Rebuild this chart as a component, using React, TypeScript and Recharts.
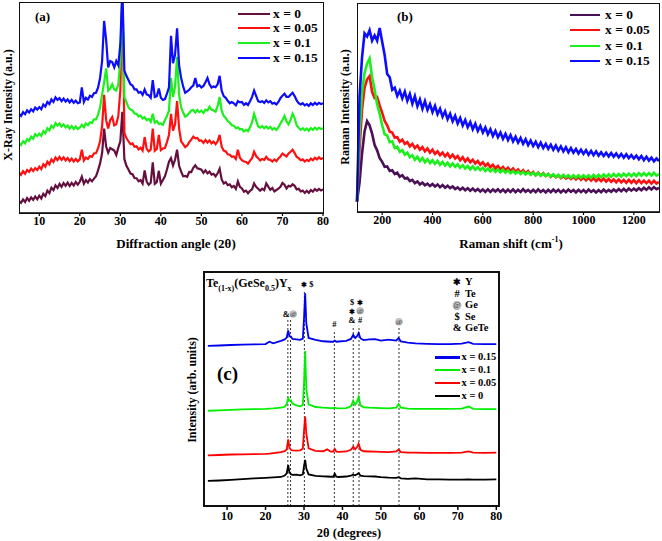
import React from 'react';
import { LineChart, Line, XAxis, YAxis, ReferenceLine, ReferenceDot } from 'recharts';

const SERIF = "'Liberation Serif', 'Times New Roman', Times, serif";

// ---------- (a) XRD patterns, one reading every 0.5 degree from 5 to 80 ----------
const xrdAngles = Array.from({ length: 151 }, (_, i) => 5 + i * 0.5);
const xrdTicks = [10, 20, 30, 40, 50, 60, 70, 80];

const xrd0 = [
  5.7, 4.8, 6.4, 5.2, 7.1, 5.8, 7.4, 6.2, 7.8, 6.5,
  8.2, 6.9, 9.1, 8.0, 10.6, 9.4, 12.0, 10.8, 13.1, 11.9,
  13.8, 12.4, 14.2, 12.9, 14.4, 12.8, 14.3, 13.0, 14.7, 13.4,
  14.8, 17.2, 13.9, 15.6, 14.4, 16.1, 15.0, 16.3, 17.4, 20.2,
  23.5, 28.4, 40.0, 31.5, 28.6, 30.8, 30.2, 29.6, 27.5, 31.0,
  34.0, 48.0, 25.5, 22.4, 20.6, 18.7, 18.4, 16.6, 16.5, 15.0,
  15.6, 14.0, 20.2, 14.9, 13.4, 14.3, 24.0, 13.8, 14.6, 20.0,
  13.9, 15.6, 17.4, 20.6, 24.3, 26.0, 22.5, 25.2, 30.0, 22.4,
  19.6, 17.4, 17.6, 17.2, 19.5, 19.4, 21.4, 22.6, 21.2, 20.9,
  20.5, 19.0, 20.2, 18.8, 19.6, 18.2, 18.6, 17.4, 18.8, 21.0,
  15.9, 14.0, 14.6, 13.2, 13.6, 12.2, 12.8, 11.4, 15.0, 12.4,
  11.6, 10.1, 10.6, 9.4, 10.5, 11.2, 14.0, 12.4, 11.5, 10.6,
  11.5, 10.8, 14.0, 12.5, 11.0, 11.9, 10.2, 10.9, 11.5, 12.4,
  14.2, 13.4, 11.6, 12.9, 12.6, 13.6, 12.9, 11.2, 11.5, 10.2,
  10.6, 9.5, 10.5, 9.6, 10.9, 10.1, 11.3, 10.5, 11.4, 10.7,
  11.2,
];
const xrd005 = [
  19.2, 18.1, 19.8, 18.6, 20.4, 19.5, 21.0, 19.9, 21.3, 20.4,
  22.0, 20.8, 23.1, 22.0, 24.3, 23.1, 25.4, 24.2, 26.3, 25.1,
  26.6, 25.2, 26.4, 24.9, 26.0, 24.6, 25.8, 24.4, 25.6, 24.5,
  25.4, 30.0, 24.9, 26.3, 25.6, 27.0, 26.6, 28.2, 28.4, 30.6,
  34.0, 41.0, 56.0, 44.0, 40.0, 44.0, 45.5, 41.5, 42.0, 46.0,
  58.0, 106.0, 38.0, 35.5, 34.0, 32.6, 33.0, 31.4, 31.6, 30.2,
  31.0, 29.6, 36.0, 30.4, 29.2, 30.0, 40.0, 29.5, 30.4, 37.0,
  29.8, 30.6, 30.8, 33.6, 37.0, 47.0, 39.0, 42.0, 53.0, 40.0,
  34.0, 32.6, 31.2, 32.0, 33.6, 34.8, 36.2, 35.4, 35.6, 34.2,
  34.4, 33.2, 34.6, 33.4, 34.4, 33.0, 33.8, 32.6, 34.0, 37.0,
  31.4, 29.6, 29.2, 27.8, 27.6, 26.6, 26.8, 25.6, 30.0, 26.2,
  25.0, 24.4, 24.2, 23.4, 24.8, 26.0, 29.0, 27.0, 26.0, 24.9,
  25.6, 25.2, 26.6, 25.4, 25.2, 24.4, 25.4, 24.6, 25.8, 26.8,
  28.2, 27.4, 26.8, 28.2, 29.0, 30.0, 28.4, 26.6, 26.0, 25.0,
  25.4, 24.4, 25.2, 24.6, 25.8, 25.0, 26.2, 25.4, 26.4, 25.6,
  26.0,
];
const xrd01 = [
  33.0, 32.2, 34.0, 33.0, 35.0, 34.2, 36.2, 35.2, 37.4, 36.4,
  37.6, 36.6, 38.8, 37.8, 40.2, 39.2, 41.4, 40.4, 42.6, 41.4,
  42.4, 41.0, 42.0, 40.6, 41.4, 40.0, 41.2, 39.8, 41.0, 39.8,
  40.4, 41.8, 40.6, 42.4, 41.6, 43.0, 42.6, 44.4, 44.4, 46.6,
  50.0, 56.0, 62.0, 68.5, 58.0, 59.0, 61.0, 58.5, 58.0, 61.0,
  72.0, 106.0, 55.0, 52.5, 50.0, 49.0, 48.6, 47.2, 47.0, 45.8,
  46.2, 44.8, 45.4, 44.0, 44.6, 43.2, 47.0, 42.8, 43.6, 42.2,
  42.4, 41.8, 44.0, 46.0, 48.5, 64.0, 55.0, 60.0, 74.0, 56.0,
  50.0, 47.6, 45.6, 46.2, 47.4, 48.6, 48.8, 47.6, 48.8, 47.8,
  48.5, 47.4, 49.0, 48.6, 50.4, 49.0, 48.6, 48.0, 50.6, 55.0,
  48.5, 46.0, 45.0, 43.6, 42.8, 41.6, 41.4, 40.2, 40.6, 39.6,
  39.8, 38.6, 39.4, 38.8, 40.6, 43.0, 47.0, 44.0, 41.0, 40.4,
  41.2, 40.2, 41.0, 40.0, 40.8, 39.6, 40.2, 39.4, 40.6, 42.4,
  44.0, 46.0, 43.4, 42.0, 44.0, 47.0, 45.0, 41.6, 40.4, 39.4,
  40.2, 39.2, 40.0, 39.0, 40.2, 39.4, 40.4, 39.6, 40.4, 39.8,
  40.2,
];
const xrd015 = [
  47.0, 46.0, 47.8, 46.8, 48.6, 47.6, 49.2, 48.2, 50.0, 49.0,
  50.2, 49.2, 51.4, 50.4, 52.6, 51.6, 53.8, 52.6, 54.8, 53.6,
  54.4, 53.0, 54.2, 52.8, 53.8, 52.4, 53.6, 52.2, 53.2, 52.0,
  52.4, 59.5, 52.6, 54.6, 53.8, 55.6, 55.0, 56.8, 57.0, 59.4,
  64.0, 72.0, 91.0, 82.0, 69.0, 72.0, 71.5, 69.0, 72.0, 70.0,
  80.0, 106.0, 67.5, 65.0, 63.0, 61.0, 60.4, 58.6, 58.6, 57.0,
  57.4, 56.0, 58.5, 56.2, 55.8, 54.6, 63.0, 55.0, 55.4, 59.0,
  54.6, 53.6, 54.0, 56.6, 59.5, 84.0, 71.0, 75.0, 87.5, 70.0,
  64.0, 60.0, 57.0, 57.6, 58.4, 59.6, 60.4, 64.0, 60.0, 60.6,
  59.5, 60.2, 62.0, 64.0, 61.0, 59.5, 60.0, 59.6, 61.0, 65.0,
  58.0, 55.4, 54.6, 53.2, 52.0, 52.6, 52.0, 51.0, 53.0, 52.4,
  52.6, 51.2, 52.0, 51.2, 53.0, 55.0, 58.0, 55.5, 53.0, 52.6,
  53.0, 52.2, 53.4, 52.4, 53.0, 51.8, 52.2, 51.4, 52.6, 54.4,
  55.6, 56.5, 55.0, 55.0, 56.0, 57.0, 55.4, 53.4, 52.0, 51.4,
  52.0, 51.0, 51.6, 50.8, 52.0, 51.2, 52.2, 51.4, 52.2, 51.6,
  52.0,
];

// ---------- (b) Raman spectra, one reading every 10 cm-1 from 100 to 1300 ----------
const ramanShifts = Array.from({ length: 121 }, (_, i) => 100 + i * 10);
const ramanTicks = [200, 400, 600, 800, 1000, 1200];

const raman0 = [
  5.0, 14.0, 28.0, 38.5, 43.5, 41.5, 37.5, 32.0, 29.5, 25.8,
  24.0, 21.6, 21.8, 19.6, 20.0, 18.2, 18.8, 16.9, 17.6, 16.0,
  16.4, 14.8, 15.4, 13.8, 14.6, 13.2, 14.0, 12.8, 13.6, 12.4,
  13.4, 12.2, 13.2, 11.9, 12.9, 11.6, 12.6, 11.4, 12.2, 11.0,
  11.8, 10.6, 11.6, 10.4, 11.4, 10.2, 11.2, 10.0, 11.0, 9.8,
  10.8, 9.6, 10.8, 9.6, 10.8, 9.8, 10.9, 9.6, 10.7, 9.5,
  10.7, 9.6, 10.8, 9.5, 10.6, 9.6, 10.9, 9.7, 10.6, 9.5,
  10.6, 9.5, 10.8, 9.6, 10.5, 9.4, 10.6, 9.5, 10.7, 9.6,
  10.6, 9.4, 10.5, 9.5, 10.7, 9.6, 10.5, 9.4, 10.6, 9.5,
  10.5, 9.4, 10.7, 9.6, 10.4, 9.3, 10.5, 9.5, 10.7, 9.6,
  10.6, 9.7, 10.8, 9.8, 11.0, 9.9, 11.1, 10.0, 11.2, 10.2,
  11.2, 10.3, 11.4, 10.4, 11.6, 10.6, 11.8, 10.8, 11.9, 10.9,
  11.6,
];
const raman005 = [
  5.0, 30.0, 49.0, 59.5, 63.5, 65.0, 57.5, 54.5, 55.0, 51.0,
  47.5, 43.5, 41.5, 38.4, 38.0, 35.6, 35.8, 33.6, 34.6, 32.6,
  33.4, 31.4, 32.6, 30.6, 31.8, 29.8, 31.0, 29.0, 30.4, 28.4,
  29.8, 27.8, 29.0, 27.2, 28.4, 26.6, 28.0, 26.0, 27.4, 25.6,
  26.8, 24.8, 26.2, 24.2, 25.6, 23.8, 25.0, 23.2, 24.4, 22.6,
  23.8, 22.0, 23.2, 21.4, 22.6, 20.8, 22.0, 20.4, 21.6, 20.0,
  21.2, 19.6, 20.8, 19.2, 20.4, 18.8, 20.0, 18.4, 19.6, 18.0,
  19.2, 17.6, 18.8, 17.4, 18.6, 17.2, 18.2, 16.8, 17.8, 16.6,
  17.6, 16.2, 17.2, 16.0, 17.0, 15.8, 16.8, 15.6, 16.8, 15.4,
  16.6, 15.2, 16.4, 15.0, 16.2, 14.8, 16.0, 14.8, 16.0, 14.6,
  15.8, 14.4, 15.6, 14.2, 15.6, 14.2, 15.4, 14.0, 15.4, 14.0,
  15.2, 13.8, 15.2, 13.8, 15.0, 13.8, 15.0, 13.6, 15.0, 13.6,
  14.4,
];
const raman01 = [
  5.0, 38.0, 57.0, 66.5, 71.0, 73.5, 64.5, 58.5, 51.5, 47.0,
  41.5, 37.2, 36.6, 33.4, 33.8, 30.6, 31.2, 28.8, 29.6, 27.4,
  28.4, 26.2, 27.2, 25.0, 26.4, 24.4, 25.8, 23.8, 25.2, 23.4,
  24.8, 23.0, 24.4, 22.6, 24.0, 22.2, 23.6, 21.8, 23.2, 21.6,
  22.8, 21.2, 22.4, 20.8, 22.0, 20.4, 21.8, 20.2, 21.4, 20.0,
  21.2, 19.6, 20.8, 19.4, 20.6, 19.2, 20.4, 19.0, 20.2, 18.8,
  19.8, 18.6, 19.6, 18.4, 19.4, 18.2, 19.2, 18.0, 19.0, 17.8,
  18.8, 17.6, 18.6, 17.4, 18.4, 17.2, 18.2, 17.0, 18.0, 16.8,
  17.8, 16.6, 17.8, 16.6, 17.6, 16.4, 17.6, 16.4, 17.6, 16.4,
  17.6, 16.4, 17.6, 16.4, 17.8, 16.6, 17.8, 16.6, 18.0, 16.8,
  18.0, 16.8, 18.2, 17.0, 18.2, 17.0, 18.4, 17.2, 18.4, 17.2,
  18.4, 17.2, 18.6, 17.4, 18.6, 17.4, 18.6, 17.4, 18.8, 17.4,
  18.2,
];
const raman015 = [
  5.0, 55.0, 74.0, 85.5, 84.0, 87.0, 82.0, 84.5, 82.0, 88.0,
  81.5, 75.0, 66.0, 64.5, 58.5, 59.5, 55.5, 58.0, 54.4, 57.6,
  53.2, 56.4, 51.8, 55.4, 50.6, 53.8, 49.4, 53.0, 48.8, 51.6,
  47.8, 50.8, 46.8, 49.4, 45.6, 48.2, 44.4, 47.0, 43.4, 46.0,
  42.4, 45.0, 41.4, 44.0, 40.6, 43.0, 39.6, 42.2, 38.8, 41.2,
  38.0, 40.4, 37.2, 39.6, 36.4, 38.8, 35.8, 38.0, 35.0, 37.4,
  34.4, 36.8, 33.8, 36.0, 33.2, 35.4, 32.6, 34.8, 32.0, 34.2,
  31.6, 33.6, 31.0, 33.2, 30.6, 32.6, 30.2, 32.2, 29.8, 31.8,
  29.4, 31.4, 29.0, 31.0, 28.6, 30.6, 28.4, 30.2, 28.0, 29.8,
  27.8, 29.6, 27.4, 29.2, 27.2, 29.0, 27.0, 28.6, 26.8, 28.4,
  26.6, 28.2, 26.4, 28.0, 26.2, 27.8, 26.0, 27.6, 25.8, 27.2,
  25.6, 27.0, 25.2, 26.8, 24.8, 26.4, 24.6, 26.0, 24.2, 25.6,
  24.4,
];

// ---------- (c) smoothed XRD patterns ----------
const cAngles = [
  5, 8, 11, 14, 17, 20, 21, 22, 24, 25,
  25.5, 25.9, 26.2, 26.6, 27, 28, 29, 29.7, 30.0, 30.3,
  30.6, 31.2, 33, 35, 36, 37, 37.6, 38.0, 38.4, 39,
  41, 42.2, 42.8, 43.3, 43.8, 44.2, 44.7, 45.5, 47, 48.5,
  50, 52, 54, 54.6, 55.2, 57, 59, 62, 65, 68,
  71, 72.8, 74, 77, 80,
];
const c0 = [
  10.7, 10.9, 11.2, 11.5, 11.8, 12.0, 12.1, 12.2, 12.4, 13.0,
  14.0, 17.5, 14.5, 13.6, 13.3, 13.4, 13.1, 13.5, 17.0, 19.7,
  16.0, 13.5, 12.9, 12.7, 12.6, 12.5, 12.5, 13.8, 12.5, 12.4,
  12.6, 13.0, 13.4, 13.1, 13.6, 14.0, 13.0, 12.8, 12.7, 12.6,
  12.3, 12.1, 12.0, 12.3, 11.8, 11.6, 11.8, 11.4, 11.4, 11.3,
  11.3, 11.4, 11.3, 11.3, 11.4,
];
const c005 = [
  21.6, 21.8, 22.0, 22.1, 22.2, 22.3, 22.4, 22.6, 23.0, 23.4,
  24.2, 28.5, 25.0, 24.0, 23.8, 23.7, 23.8, 24.5, 32.0, 38.2,
  31.0, 24.6, 23.6, 23.4, 24.2, 23.2, 23.2, 24.4, 23.2, 23.1,
  23.3, 24.0, 25.3, 24.2, 25.2, 26.6, 24.0, 23.4, 23.3, 23.2,
  23.1, 23.0, 23.3, 24.1, 23.0, 22.8, 22.8, 22.7, 22.7, 22.7,
  22.8, 23.3, 22.8, 22.7, 22.8,
];
const c01 = [
  40.7, 40.9, 41.1, 41.3, 41.4, 41.5, 41.6, 41.7, 42.0, 42.4,
  43.6, 46.0, 45.0, 45.2, 43.8, 43.0, 42.6, 43.2, 52.0, 66.2,
  50.0, 43.4, 42.3, 42.0, 41.9, 41.8, 41.8, 42.0, 41.8, 41.7,
  41.8, 42.6, 45.0, 43.2, 44.6, 46.6, 43.0, 42.2, 42.0, 41.9,
  41.8, 41.7, 42.0, 43.6, 42.0, 41.6, 41.5, 41.5, 41.5, 41.5,
  41.6, 42.5, 41.5, 41.4, 41.4,
];
const c015 = [
  68.4, 68.6, 68.8, 69.0, 69.1, 69.2, 70.2, 69.5, 70.6, 71.2,
  72.0, 75.0, 72.6, 72.4, 71.4, 71.2, 71.0, 71.5, 80.0, 90.9,
  78.0, 71.8, 71.0, 70.4, 70.3, 70.2, 70.2, 70.7, 70.2, 70.3,
  70.6, 71.4, 73.2, 71.8, 72.6, 73.9, 71.6, 70.9, 71.2, 71.3,
  70.7, 71.1, 70.7, 71.8, 70.3, 69.8, 69.5, 69.3, 69.2, 69.2,
  69.4, 70.0, 69.3, 69.2, 69.2,
];

// phase markers in (c): peak position and the height the dashed guide reaches
const cPeakLines = [
  { angle: 25.8, top: 79.5 },
  { angle: 26.5, top: 79.5 },
  { angle: 30.1, top: 92.3 },
  { angle: 37.9, top: 75.2 },
  { angle: 42.8, top: 77 },
  { angle: 44.3, top: 77 },
  { angle: 54.7, top: 76.6 },
];
// symbol groups above the guides (offsets in px from the guide top)
const cMarks = [
  { angle: 26.15, top: 79.5, items: [{ t: '&', dx: -3, dy: -6 }, { t: '@', dx: 4, dy: -6 }] },
  { angle: 30.1, top: 92.3, items: [{ t: '✱', dx: 0, dy: -6 }, { t: '$', dx: 7, dy: -6 }] },
  { angle: 37.9, top: 75.2, items: [{ t: '#', dx: 0, dy: -6 }] },
  {
    angle: 43.55,
    top: 77,
    items: [
      { t: '$', dx: -4, dy: -24 }, { t: '✱', dx: 4, dy: -24 },
      { t: '✱', dx: -4, dy: -15 }, { t: '@', dx: 4, dy: -15 },
      { t: '&', dx: -4, dy: -5.5 }, { t: '#', dx: 4, dy: -5.5 },
    ],
  },
  { angle: 54.7, top: 76.6, items: [{ t: '@', dx: 0, dy: -5 }] },
];
const cKey = [
  { sym: '✱', label: 'Y' },
  { sym: '#', label: 'Te' },
  { sym: '@', label: 'Ge' },
  { sym: '$', label: 'Se' },
  { sym: '&', label: 'GeTe' },
];

const xrdSeries = [
  { key: 's0', name: 'x = 0', color: '#64103f' },
  { key: 's1', name: 'x = 0.05', color: '#ff1010' },
  { key: 's2', name: 'x = 0.1', color: '#1cf01c' },
  { key: 's3', name: 'x = 0.15', color: '#0c0cff' },
];
const ramanSeries = [
  { key: 's0', name: 'x = 0', color: '#4a1157' },
  { key: 's1', name: 'x = 0.05', color: '#ff1010' },
  { key: 's2', name: 'x = 0.1', color: '#1cf01c' },
  { key: 's3', name: 'x = 0.15', color: '#0c0cff' },
];
const cSeries = [
  { key: 's3', name: 'x = 0.15', color: '#0000ee' },
  { key: 's2', name: 'x = 0.1', color: '#00ee00' },
  { key: 's1', name: 'x = 0.05', color: '#ff0000' },
  { key: 's0', name: 'x = 0', color: '#000000' },
];

const xrdRows = xrdAngles.map((angle, i) => ({ angle, s0: xrd0[i], s1: xrd005[i], s2: xrd01[i], s3: xrd015[i] }));
const ramanRows = ramanShifts.map((shift, i) => ({ shift, s0: raman0[i], s1: raman005[i], s2: raman01[i], s3: raman015[i] }));
const cRows = cAngles.map((angle, i) => ({ angle, s0: c0[i], s1: c005[i], s2: c01[i], s3: c015[i] }));

const tickStyle = { fill: '#000', fontSize: 12, fontWeight: 'bold', fontFamily: SERIF };

const Txt = ({ x, y, size = 12, mode = 'left', children }: any) => {
  const transform =
    mode === 'rotate' ? 'translate(-50%,-50%) rotate(-90deg)' : mode === 'center' ? 'translate(-50%,-50%)' : 'translate(0,-50%)';
  return (
    <div
      style={{
        position: 'absolute',
        left: x,
        top: y,
        transform,
        fontFamily: SERIF,
        fontWeight: 'bold',
        fontSize: size,
        lineHeight: 1,
        whiteSpace: 'nowrap',
        color: '#000',
      }}
    >
      {children}
    </div>
  );
};

// plain frame around a plot area
const Frame = ({ x, y, w, h, bw }: any) => (
  <div style={{ position: 'absolute', left: x, top: y, width: w, height: h, border: `${bw}px solid #111`, boxSizing: 'border-box', pointerEvents: 'none' }} />
);

const LineLegend = ({ items, x, y, gap, lineW, textX, size, thick }: any) => (
  <>
    {items.map((s: any, i: number) => (
      <React.Fragment key={s.name}>
        <div style={{ position: 'absolute', left: x, top: y + i * gap - thick / 2, width: lineW, height: thick, background: s.color }} />
        <Txt x={textX} y={y + i * gap} size={size}>{s.name}</Txt>
      </React.Fragment>
    ))}
  </>
);

const MarkShape = ({ cx, cy, items }: any) => (
  <g>
    {items.map((it: any, i: number) =>
      it.t === '@' ? (
        <g key={i}>
          <circle cx={cx + it.dx} cy={cy + it.dy} r={3.8} fill="#c2c2c2" />
          <text x={cx + it.dx} y={cy + it.dy + 2.4} textAnchor="middle" fontSize={7} fontFamily={SERIF} fill="#333">@</text>
        </g>
      ) : (
        <text
          key={i}
          x={cx + it.dx}
          y={cy + it.dy + 3}
          textAnchor="middle"
          fontSize={it.t === '✱' ? 7 : 8.5}
          fontWeight="bold"
          fontFamily={SERIF}
          fill="#000"
        >
          {it.t}
        </text>
      )
    )}
  </g>
);

export default function App() {
  return (
    <div style={{ position: 'absolute', left: 0, top: 0, width: 662, height: 541, background: '#fff', overflow: 'hidden' }}>
      {/* (a) */}
      <div style={{ position: 'absolute', left: 0, top: 0 }}>
        <LineChart width={330} height={250} data={xrdRows} margin={{ top: 2, right: 7, bottom: 0, left: 19 }}>
          <XAxis
            dataKey="angle"
            type="number"
            domain={[5, 80]}
            ticks={xrdTicks}
            interval={0}
            allowDataOverflow
            height={37}
            tickSize={3}
            tickMargin={0}
            axisLine={{ stroke: '#000', strokeWidth: 1.5 }}
            tickLine={{ stroke: '#000', strokeWidth: 1.2 }}
            tick={tickStyle}
          />
          <YAxis type="number" domain={[0, 100]} allowDataOverflow width={0} tick={false} tickLine={false} axisLine={{ stroke: '#000', strokeWidth: 1.5 }} />
          {xrdSeries.map((s) => (
            <Line key={s.key} dataKey={s.key} name={s.name} stroke={s.color} strokeWidth={2.2} dot={false} isAnimationActive={false} />
          ))}
        </LineChart>
      </div>
      <Frame x={19} y={2} w={304.5} h={211.5} bw={1} />
      <Txt x={35} y={15.5} size={13}>(a)</Txt>
      <LineLegend items={xrdSeries} x={238} y={13.5} gap={14.7} lineW={32} textX={273} size={13.5} thick={2} />
      <Txt x={8} y={105} size={12} mode="rotate">X-Ray Intensity (a.u.)</Txt>
      <Txt x={176} y={243} size={13} mode="center">Diffraction angle (2θ)</Txt>

      {/* (b) */}
      <div style={{ position: 'absolute', left: 330, top: 0 }}>
        <LineChart width={332} height={250} data={ramanRows} margin={{ top: 3, right: 3, bottom: 0, left: 27 }}>
          <XAxis
            dataKey="shift"
            type="number"
            domain={[100, 1300]}
            ticks={ramanTicks}
            interval={0}
            height={38}
            tickSize={3}
            tickMargin={0}
            axisLine={{ stroke: '#000', strokeWidth: 1.5 }}
            tickLine={{ stroke: '#000', strokeWidth: 1.2 }}
            tick={tickStyle}
          />
          <YAxis type="number" domain={[0, 100]} width={0} tick={false} tickLine={false} axisLine={{ stroke: '#000', strokeWidth: 1.5 }} />
          {ramanSeries.map((s) => (
            <Line key={s.key} dataKey={s.key} name={s.name} stroke={s.color} strokeWidth={2.6} dot={false} isAnimationActive={false} />
          ))}
        </LineChart>
      </div>
      <Frame x={357} y={3} w={302.5} h={209.5} bw={1} />
      <Txt x={397} y={16} size={13}>(b)</Txt>
      <LineLegend items={ramanSeries} x={570} y={15} gap={15.3} lineW={30} textX={605} size={13.5} thick={2} />
      <Txt x={345} y={107} size={12} mode="rotate">Raman Intensity (a.u.)</Txt>
      <Txt x={511} y={243} size={13} mode="center">
        Raman shift (cm<sup style={{ fontSize: 8 }}>-1</sup>)
      </Txt>

      {/* (c) */}
      <div style={{ position: 'absolute', left: 180, top: 260 }}>
        <LineChart width={330} height={281} data={cRows} margin={{ top: 12, right: 11, bottom: 0, left: 24 }}>
          <XAxis
            dataKey="angle"
            type="number"
            domain={[4, 80.7]}
            ticks={xrdTicks}
            interval={0}
            height={35}
            tickSize={4}
            tickMargin={1}
            axisLine={{ stroke: '#000', strokeWidth: 2 }}
            tickLine={{ stroke: '#000', strokeWidth: 1.5 }}
            tick={tickStyle}
          />
          <YAxis type="number" domain={[0, 100]} width={0} tick={false} tickLine={false} axisLine={{ stroke: '#000', strokeWidth: 2 }} />
          {cPeakLines.map((p) => (
            <ReferenceLine
              key={p.angle}
              segment={[{ x: p.angle, y: 0 }, { x: p.angle, y: p.top }]}
              stroke="#333"
              strokeWidth={1}
              strokeDasharray="2 2"
            />
          ))}
          {cSeries.map((s) => (
            <Line key={s.key} dataKey={s.key} name={s.name} stroke={s.color} strokeWidth={1.8} dot={false} isAnimationActive={false} />
          ))}
          {cMarks.map((m) => (
            <ReferenceDot
              key={m.angle}
              x={m.angle}
              y={m.top}
              r={0}
              shape={(p: any) => <MarkShape cx={p.cx} cy={p.cy} items={m.items} />}
            />
          ))}
        </LineChart>
      </div>
      <Frame x={203} y={271} w={297} h={236} bw={2} />
      <Txt x={206} y={285} size={12}>
        Te<sub style={{ fontSize: 8 }}>(1-x)</sub>(GeSe<sub style={{ fontSize: 8 }}>0.5</sub>)Y<sub style={{ fontSize: 8 }}>x</sub>
      </Txt>
      {cKey.map((k, i) => (
        <React.Fragment key={k.label}>
          <Txt x={457} y={282 + i * 11.5} size={k.sym === '✱' ? 9 : 10.5} mode="center">
            {k.sym === '@' ? (
              <span style={{ display: 'inline-block', width: 9, height: 9, borderRadius: 5, background: '#c2c2c2', fontSize: 7.5, lineHeight: '9px', textAlign: 'center', fontWeight: 'normal', color: '#333' }}>@</span>
            ) : (
              k.sym
            )}
          </Txt>
          <Txt x={465} y={282 + i * 11.5} size={10.5}>{k.label}</Txt>
        </React.Fragment>
      ))}
      <Txt x={217} y={373} size={19}>(c)</Txt>
      <LineLegend items={cSeries} x={435} y={357.3} gap={12.9} lineW={25} textX={461.5} size={10.5} thick={2.5} />
      <Txt x={192} y={390} size={12} mode="rotate">Intensity (arb. units)</Txt>
      <Txt x={349} y={533} size={12.5} mode="center">2θ (degrees)</Txt>
    </div>
  );
}
